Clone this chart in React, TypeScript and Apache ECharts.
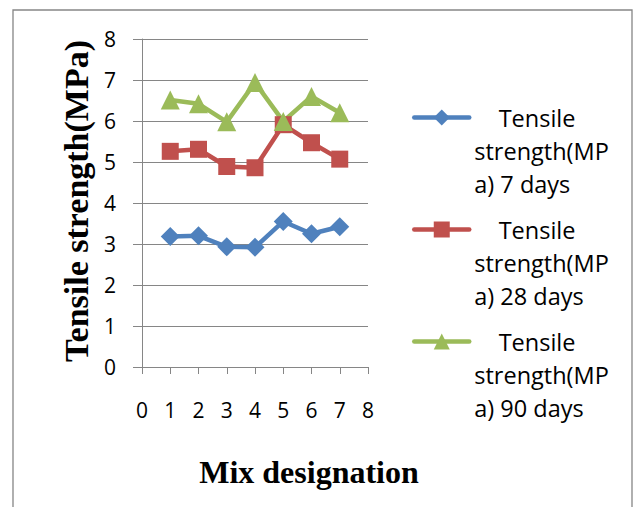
import React, { useEffect, useRef } from "react";
import * as echarts from "echarts";

const mixDesignation = [1, 2, 3, 4, 5, 6, 7];
const days7 = [3.18, 3.2, 2.93, 2.92, 3.55, 3.25, 3.42];
const days28 = [5.26, 5.31, 4.89, 4.86, 5.91, 5.47, 5.07];
const days90 = [6.51, 6.42, 5.98, 6.94, 5.99, 6.6, 6.2];
const seriesNames = [
  "Tensile strength(MPa) 7 days",
  "Tensile strength(MPa) 28 days",
  "Tensile strength(MPa) 90 days",
];
const legendLabels = [
  "    Tensile\nstrength(MP\na) 7 days",
  "    Tensile\nstrength(MP\na) 28 days",
  "    Tensile\nstrength(MP\na) 90 days",
];
const yTitle = "Tensile strength(MPa)";
const xTitle = "Mix designation";

const GRAY = "#868686";
const SANS = "'Open Sans', Lato, sans-serif";
const SERIF = "'Liberation Serif', 'DejaVu Serif', serif";

export default function App() {
  const ref = useRef<HTMLDivElement>(null);
  useEffect(() => {
    if (!ref.current) return;
    const chart = echarts.init(ref.current, null, { renderer: "svg" });
    const mk = (vals: number[]) => mixDesignation.map((x, i) => [x, vals[i]]);
    const LH = 33;
    chart.setOption({
      animation: false,
      backgroundColor: "#ffffff",
      grid: { left: 142, right: 266, top: 39, bottom: 140 },
      xAxis: {
        type: "value",
        min: 0,
        max: 8,
        interval: 1,
        axisLine: { show: true, lineStyle: { color: GRAY, width: 1 } },
        axisTick: { show: true, length: 7, lineStyle: { color: GRAY } },
        splitLine: { show: false },
        axisLabel: { color: "#000", fontFamily: SANS, fontSize: 21, margin: 32 },
      },
      yAxis: {
        type: "value",
        min: 0,
        max: 8,
        interval: 1,
        axisLine: { show: true, lineStyle: { color: GRAY, width: 1 } },
        axisTick: { show: true, length: 9, lineStyle: { color: GRAY } },
        splitLine: { show: true, lineStyle: { color: GRAY, width: 1 } },
        axisLabel: { color: "#000", fontFamily: SANS, fontSize: 21, margin: 26 },
      },
      legend: {
        orient: "vertical",
        left: 412,
        top: 35,
        padding: 0,
        itemWidth: 55,
        itemHeight: 20,
        itemGap: 112 - 5 * LH,
        data: seriesNames,
        lineStyle: { width: 4.5, cap: "round" },
        formatter: (name: string) => "\n\n" + legendLabels[seriesNames.indexOf(name)],
        textStyle: {
          color: "#000",
          fontFamily: SANS,
          fontSize: 23.5,
          lineHeight: LH,
        },
      },
      graphic: [
        {
          type: "rect",
          shape: { x: 13, y: 10, width: 619, height: 530 },
          style: { fill: "none", stroke: GRAY, lineWidth: 1.3 },
          silent: true,
        },
        {
          type: "text",
          x: 76,
          y: 201,
          rotation: Math.PI / 2,
          style: {
            text: yTitle,
            font: `bold 34px ${SERIF}`,
            fill: "#000",
            align: "center",
            verticalAlign: "middle",
          },
        },
        {
          type: "text",
          x: 309,
          y: 472,
          style: {
            text: xTitle,
            font: `bold 32px ${SERIF}`,
            fill: "#000",
            align: "center",
            verticalAlign: "middle",
          },
        },
      ],
      series: [
        {
          name: seriesNames[0],
          type: "line",
          data: mk(days7),
          symbol: "diamond",
          symbolSize: 19,
          lineStyle: { width: 4.5, color: "#4F81BD" },
          itemStyle: { color: "#4F81BD" },
        },
        {
          name: seriesNames[1],
          type: "line",
          data: mk(days28),
          symbol: "rect",
          symbolSize: 17,
          lineStyle: { width: 4.5, color: "#C0504D" },
          itemStyle: { color: "#C0504D" },
        },
        {
          name: seriesNames[2],
          type: "line",
          data: mk(days90),
          symbol: "triangle",
          symbolSize: 19,
          lineStyle: { width: 4.5, color: "#9BBB59" },
          itemStyle: { color: "#9BBB59" },
        },
      ],
    });
    return () => chart.dispose();
  }, []);
  return (
    <div
      ref={ref}
      style={{ position: "fixed", left: 0, top: 0, width: 634, height: 507 }}
    />
  );
}
